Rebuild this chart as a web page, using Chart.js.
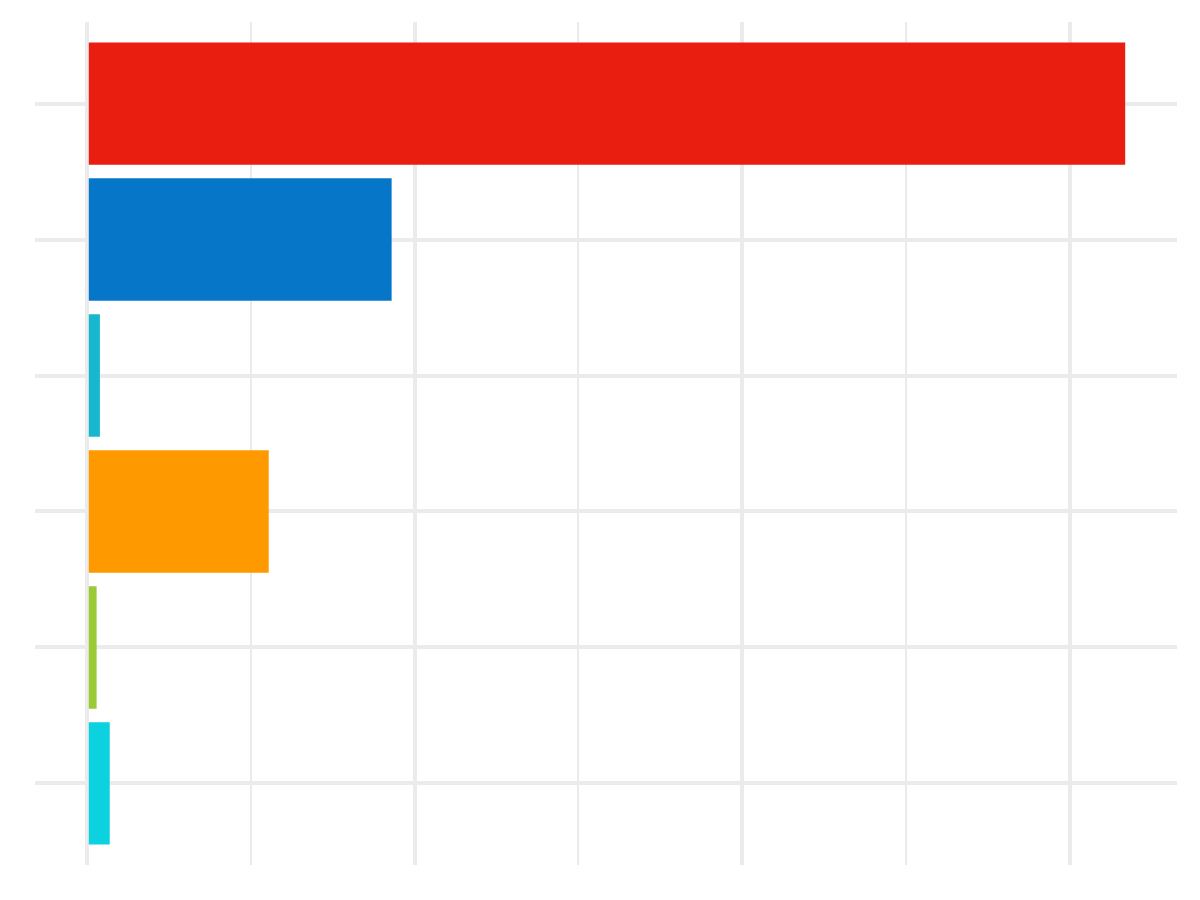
<!DOCTYPE html>
<html>
<head>
<meta charset="utf-8">
<script src="https://cdn.jsdelivr.net/npm/chart.js@4/dist/chart.umd.min.js"></script>
<style>
  html, body { margin: 0; padding: 0; background: #fff; }
  #wrap { width: 1200px; height: 900px; }
</style>
</head>
<body>
<div id="wrap"><canvas id="chart"></canvas></div>
<script>
// six bars, top to bottom
const positions = [0, 1, 2, 3, 4, 5];
const values = [3.168, 0.930, 0.040, 0.555, 0.030, 0.070];
const barColors = ['#E91E10', '#0677C8', '#17B7CF', '#FF9900', '#9CCA37', '#0BD2DE'];
const xTicks = [0, 0.5, 1, 1.5, 2, 2.5, 3];

const grid = '#EBEBEB';

new Chart(document.getElementById('chart'), {
  type: 'bar',
  data: {
    datasets: [
      {
        data: positions.map((p, i) => ({ x: values[i], y: p })),
        backgroundColor: barColors,
        borderWidth: 0,
        inflateAmount: 0,
        barPercentage: 0.9,
        categoryPercentage: 1,
      },
    ],
  },
  options: {
    indexAxis: 'y',
    responsive: true,
    maintainAspectRatio: false,
    animation: false,
    layout: {
      padding: { left: 35, right: 23, top: 22, bottom: 35 },
    },
    plugins: {
      legend: { display: false },
      tooltip: { enabled: false },
    },
    scales: {
      x: {
        type: 'linear',
        min: -0.158,
        max: 3.326,
        afterBuildTicks: (scale) => {
          scale.ticks = xTicks.map((v) => ({ value: v }));
        },
        ticks: { display: false },
        border: { display: false },
        grid: {
          color: grid,
          drawTicks: false,
          lineWidth: (ctx) => (ctx.tick && ctx.tick.value % 1 === 0 ? 4 : 2),
        },
      },
      y: {
        type: 'linear',
        reverse: true,
        offset: false,
        min: -0.6,
        max: 5.6,
        afterBuildTicks: (scale) => {
          scale.ticks = positions.map((v) => ({ value: v }));
        },
        ticks: { display: false },
        border: { display: false },
        grid: {
          offset: false,
          color: grid,
          drawTicks: false,
          lineWidth: 4,
        },
      },
    },
  },
});
</script>
</body>
</html>
